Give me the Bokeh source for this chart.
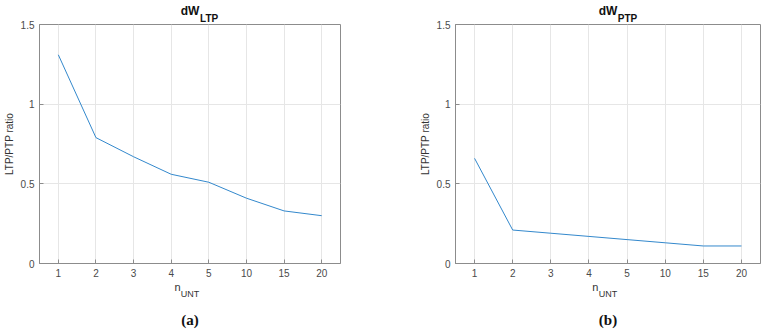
from bokeh.plotting import figure
from bokeh.models import FactorRange, Range1d, FixedTicker, LinearAxis
from bokeh.layouts import row
from bokeh.embed import file_html
from bokeh.resources import INLINE

# ---- data ----
n_unt = ["1", "2", "3", "4", "5", "10", "15", "20"]
ltp_ratio = [1.31, 0.79, 0.67, 0.56, 0.51, 0.41, 0.33, 0.30]
ptp_ratio = [0.66, 0.21, 0.19, 0.17, 0.15, 0.13, 0.11, 0.11]
y_ticks = [0, 0.5, 1, 1.5]
y_tick_labels = {0: "0", 0.5: "0.5", 1: "1", 1.5: "1.5"}
titles = [("dW", "LTP"), ("dW", "PTP")]
captions = ["(a)", "(b)"]
y_label = "LTP/PTP ratio"
x_label = ("n", "UNT")

AXIS = "#8c8c8c"
TICKTXT = "#4a4a4a"
LABTXT = "#333333"
LINE = "#3388cc"
FONT = "Liberation Sans"


def bare_axis(pos, label_text, label_size, label_bold, label_standoff,
              axis_text, axis_size, axis_bold, axis_standoff, font=FONT, color=LABTXT):
    ticks = [pos] if pos is not None else []
    ax = LinearAxis(ticker=FixedTicker(ticks=ticks, minor_ticks=[]))
    if pos is not None:
        ax.major_label_overrides = {pos: label_text}
    ax.axis_line_color = None
    ax.major_tick_line_color = None
    ax.minor_tick_line_color = None
    ax.major_tick_in = 0
    ax.major_tick_out = 0
    ax.minor_tick_in = 0
    ax.minor_tick_out = 0
    ax.major_label_standoff = label_standoff
    ax.major_label_text_font = FONT
    ax.major_label_text_font_size = label_size
    ax.major_label_text_font_style = "bold" if label_bold else "normal"
    ax.major_label_text_color = color
    ax.axis_label = axis_text
    ax.axis_label_text_font = font
    ax.axis_label_text_font_size = axis_size
    ax.axis_label_text_font_style = "bold" if axis_bold else "normal"
    ax.axis_label_text_color = color
    ax.axis_label_standoff = axis_standoff
    return ax


def panel(values, title, caption, width, border_left, border_right):
    p = figure(x_range=FactorRange(*n_unt), y_range=Range1d(0, 1.5),
               width=width, height=330,
               min_border_left=border_left, min_border_right=border_right,
               min_border_top=24, min_border_bottom=67,
               output_backend="svg", toolbar_location=None)
    p.title = None
    p.outline_line_color = AXIS
    p.background_fill_color = "white"
    p.border_fill_color = "white"

    p.yaxis.ticker = FixedTicker(ticks=y_ticks, minor_ticks=[])
    p.yaxis.major_label_overrides = y_tick_labels
    for ax in p.xaxis + p.yaxis:
        ax.axis_line_color = AXIS
        ax.major_tick_line_color = AXIS
        ax.major_tick_in = 4
        ax.major_tick_out = 0
        ax.minor_tick_line_color = None
        ax.major_label_text_font = FONT
        ax.major_label_text_color = TICKTXT
        ax.major_label_text_font_size = "10px"
    p.xaxis.major_label_standoff = 5
    p.yaxis.major_label_standoff = 5
    p.yaxis.axis_label = y_label
    p.yaxis.axis_label_text_font = FONT
    p.yaxis.axis_label_text_font_size = "10px"
    p.yaxis.axis_label_text_font_style = "normal"
    p.yaxis.axis_label_text_color = LABTXT
    p.yaxis.axis_label_standoff = 3

    p.xgrid.grid_line_color = "#e6e6e6"
    p.ygrid.grid_line_color = "#e6e6e6"
    p.ygrid.ticker = FixedTicker(ticks=y_ticks, minor_ticks=[])

    p.line(x=n_unt, y=values, line_color=LINE, line_width=1)

    # title: main text as axis label, subscript as a tick label just right of it
    p.add_layout(bare_axis(4.51, title[1], "10px", True, 1,
                           title[0], "12px", True, -8, color="#111111"), "above")
    # x label: "n" as tick label, subscript "UNT" as axis label just below
    p.add_layout(bare_axis(3.67, x_label[0], "11px", False, 1,
                           x_label[1], "9px", False, -7), "below")
    # caption
    p.add_layout(bare_axis(None, "", "10px", False, 0,
                           caption, "15px", True, 10,
                           font="Liberation Serif", color="#111111"), "below")
    return p


p1 = panel(ltp_ratio, titles[0], captions[0], 384, 35, 44)
p2 = panel(ptp_ratio, titles[1], captions[1], 385, 71, 9)
layout = row(p1, p2)

open("out.html", "w").write(file_html(layout, INLINE))
